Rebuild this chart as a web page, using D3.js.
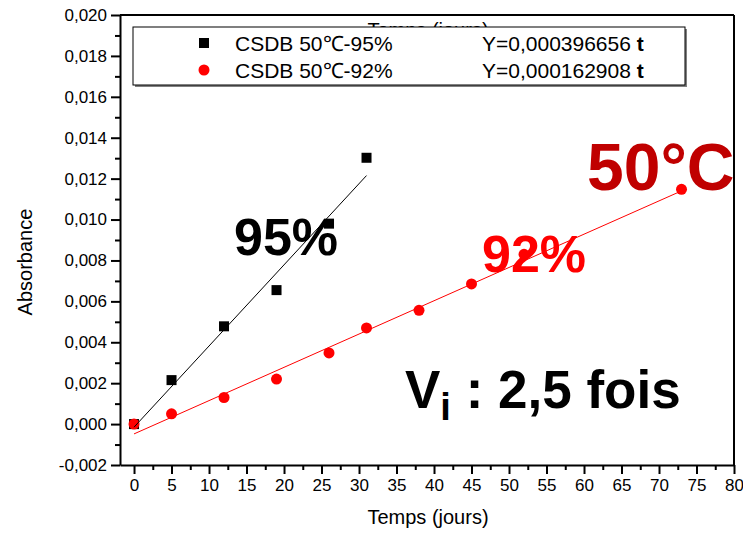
<!DOCTYPE html>
<html lang="fr">

<head>
    <meta charset="utf-8">
    <script src='https://d3js.org/d3.v7.min.js'></script>
    <style>
        body { margin: 0; background: #fff; }
        text { font-family: "Liberation Sans", Arial, sans-serif; }
    </style>
</head>

<body>
</body>

<script>

    // 95% series (black squares)
    const days95 = [0, 5, 12, 19, 26, 31];
    const abs95 = [0.0000, 0.00215, 0.00478, 0.00655, 0.0098, 0.01302];
    // 92% series (red circles)
    const days92 = [0, 5, 12, 19, 26, 31, 38, 45, 52, 73];
    const abs92 = [0.0000, 0.00050, 0.00130, 0.00220, 0.00348, 0.00470, 0.00556, 0.00685, 0.00830, 0.01148];

    // fitted lines, endpoints
    const fit95 = [[0, -0.00015], [31, 0.01215]];
    const fit92 = [[0, -0.00048], [73, 0.01140]];

    const legendNames = ["CSDB 50\u2103-95%", "CSDB 50\u2103-92%"];
    const legendEq = ["Y=0,000396656", "Y=0,000162908"];

    const xTicks = d3.range(0, 81, 5);
    const yTicks = d3.range(-0.002, 0.0201, 0.002);

    const width = 743;
    const height = 535;

    var svg = d3.select("body")
                .append("svg")
                .attr("width", width)
                .attr("height", height);

    var x = d3.scaleLinear()
                .domain([-1.87, 80])
                .range([120, 734]);

    var y = d3.scaleLinear()
                .domain([-0.002, 0.020])
                .range([465, 15]);

    const comma = d => d3.format(".3f")(d).replace(".", ",").replace("−", "-");

    // bottom axis with minor ticks
    var xAxis = svg.append("g")
                    .attr("transform", "translate(0," + y.range()[0] + ")")
                    .call(d3.axisBottom(x).tickValues(xTicks).tickSize(9).tickPadding(5).tickSizeOuter(0));
    svg.append("g")
        .attr("transform", "translate(0," + y.range()[0] + ")")
        .call(d3.axisBottom(x).tickValues(d3.range(2.5, 80, 5)).tickSize(5).tickFormat("").tickSizeOuter(0))
        .select(".domain").remove();

    var yAxis = svg.append("g")
                    .attr("transform", "translate(" + x.range()[0] + ",0)")
                    .call(d3.axisLeft(y).tickValues(yTicks).tickFormat(comma).tickSize(9).tickPadding(4).tickSizeOuter(0));
    svg.append("g")
        .attr("transform", "translate(" + x.range()[0] + ",0)")
        .call(d3.axisLeft(y).tickValues(d3.range(-0.001, 0.0200, 0.002)).tickSize(5).tickFormat("").tickSizeOuter(0))
        .select(".domain").remove();

    svg.selectAll(".tick text")
        .style("font-size", "17px")
        .attr("fill", "#000");
    svg.selectAll(".tick line").attr("stroke-width", 2);
    svg.selectAll(".domain").attr("stroke-width", 2);

    // top and right frame
    svg.append("line")
        .attr("x1", x.range()[0]).attr("x2", x.range()[1])
        .attr("y1", y.range()[1]).attr("y2", y.range()[1])
        .attr("stroke", "#000").attr("stroke-width", 2);
    svg.append("line")
        .attr("x1", x.range()[1]).attr("x2", x.range()[1])
        .attr("y1", y.range()[1]).attr("y2", y.range()[0])
        .attr("stroke", "#000").attr("stroke-width", 2);

    // axis titles
    svg.append("text")
        .attr("x", 428).attr("y", 524)
        .style("text-anchor", "middle")
        .style("font-size", "20px")
        .text("Temps (jours)");

    svg.append("text")
        .attr("x", 428).attr("y", 37)
        .style("text-anchor", "middle")
        .style("font-size", "20px")
        .text("Temps (jours)");

    svg.append("text")
        .attr("transform", "translate(32,262) rotate(-90)")
        .style("text-anchor", "middle")
        .style("font-size", "20px")
        .text("Absorbance");

    // markers
    svg.selectAll("rect.p95")
        .data(days95)
        .enter()
        .append("rect")
        .attr("class", "p95")
        .attr("x", function (d) { return x(d) - 5; })
        .attr("y", function (d, i) { return y(abs95[i]) - 5; })
        .attr("width", 10)
        .attr("height", 10)
        .attr("fill", "#000");

    svg.selectAll("circle.p92")
        .data(days92)
        .enter()
        .append("circle")
        .attr("class", "p92")
        .attr("cx", function (d) { return x(d); })
        .attr("cy", function (d, i) { return y(abs92[i]); })
        .attr("r", 5.5)
        .attr("fill", "#ff0000");

    var line = d3.line()
                .x(function (d) { return x(d[0]); })
                .y(function (d) { return y(d[1]); });

    svg.append("path")
        .attr("d", line(fit95))
        .attr("fill", "none")
        .attr("stroke", "#000")
        .attr("stroke-width", 1);

    svg.append("path")
        .attr("d", line(fit92))
        .attr("fill", "none")
        .attr("stroke", "#ff0000")
        .attr("stroke-width", 1);

    // legend box with shadow
    svg.append("rect")
        .attr("x", 135).attr("y", 29)
        .attr("width", 552).attr("height", 58)
        .attr("fill", "#808080");
    svg.append("rect")
        .attr("x", 133).attr("y", 27)
        .attr("width", 552).attr("height", 58)
        .attr("fill", "#fff")
        .attr("stroke", "#000")
        .attr("stroke-width", 1);

    svg.append("rect")
        .attr("x", 199).attr("y", 38)
        .attr("width", 10).attr("height", 10)
        .attr("fill", "#000");
    svg.append("circle")
        .attr("cx", 204).attr("cy", 70)
        .attr("r", 5.5)
        .attr("fill", "#ff0000");

    var leg = svg.selectAll("g.leg")
                .data(legendNames)
                .enter()
                .append("g")
                .attr("class", "leg")
                .attr("transform", function (d, i) {
                    return "translate(0," + (51 + i * 27) + ")";
                });

    leg.append("text")
        .attr("x", 235)
        .style("font-size", "21px")
        .text(function (d) { return d; });

    var eq = leg.append("text")
                .attr("x", 482)
                .style("font-size", "21px");
    eq.append("tspan").text(function (d, i) { return legendEq[i] + " "; });
    eq.append("tspan").style("font-weight", "bold").text("t");

    // annotations
    svg.append("text")
        .attr("x", 234).attr("y", 255)
        .style("font-size", "52px")
        .style("font-weight", "bold")
        .attr("fill", "#000")
        .text("95%");

    svg.append("text")
        .attr("x", 482).attr("y", 272)
        .style("font-size", "52px")
        .style("font-weight", "bold")
        .attr("fill", "#ff0000")
        .text("92%");

    svg.append("text")
        .attr("x", 587).attr("y", 190)
        .style("font-size", "66px")
        .style("font-weight", "bold")
        .attr("fill", "#c00000")
        .text("50°C");

    var vi = svg.append("text")
                .attr("x", 405).attr("y", 408)
                .style("font-size", "53px")
                .style("font-weight", "bold")
                .attr("fill", "#000");
    vi.append("tspan").text("V");
    vi.append("tspan").attr("dy", 12).style("font-size", "38px").text("i");
    vi.append("tspan").attr("dy", -12).text(" : 2,5 fois");

</script>

</html>
